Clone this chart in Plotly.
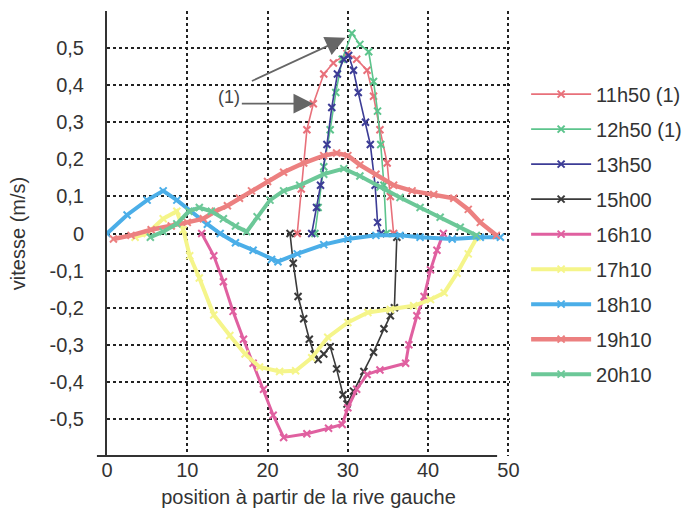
import plotly.graph_objects as go

# Vitesse mesurée le long de la section, pour chaque heure de mesure
x_1150 = [23.7, 24.2, 24.9, 25.7, 27.0, 28.2, 29.9, 31.1, 32.4, 33.2, 34.0, 34.9, 35.3, 35.7]
v_1150 = [0.0, 0.12, 0.28, 0.35, 0.43, 0.46, 0.485, 0.47, 0.44, 0.37, 0.28, 0.19, 0.10, 0.0]

x_1250 = [25.9, 26.3, 27.0, 27.8, 28.5, 29.3, 30.5, 31.5, 32.6, 33.2, 33.7, 34.1, 34.5, 34.8]
v_1250 = [0.0, 0.07, 0.18, 0.28, 0.38, 0.47, 0.54, 0.51, 0.49, 0.41, 0.33, 0.24, 0.13, 0.0]

x_1350 = [25.5, 26.1, 26.6, 27.4, 28.0, 28.7, 29.5, 30.1, 30.7, 31.3, 32.2, 32.8, 33.4, 33.7, 34.1]
v_1350 = [0.0, 0.07, 0.13, 0.24, 0.34, 0.43, 0.47, 0.48, 0.44, 0.38, 0.30, 0.24, 0.13, 0.03, 0.0]

x_1500 = [22.8, 23.2, 23.8, 24.5, 25.2, 25.8, 26.3, 27.0, 27.8, 28.6, 29.4, 29.9, 30.7, 32.0, 33.2,
          34.5, 35.3, 35.8, 36.1]
v_1500 = [0.0, -0.08, -0.17, -0.23, -0.285, -0.325, -0.34, -0.325, -0.305, -0.365, -0.435, -0.46,
          -0.425, -0.372, -0.32, -0.257, -0.222, -0.2, -0.01]

x_1610 = [11.8, 13.3, 14.5, 15.7, 17.0, 18.2, 19.5, 20.7, 22.0, 24.9, 27.6, 29.3, 30.0, 31.1, 32.4,
          34.0, 37.2, 37.6, 38.6, 39.5, 40.3, 41.1, 41.9]
v_1610 = [0.0, -0.06, -0.13, -0.21, -0.285, -0.35, -0.42, -0.49, -0.55, -0.54, -0.525, -0.515, -0.47,
          -0.42, -0.38, -0.368, -0.35, -0.30, -0.222, -0.17, -0.098, -0.045, 0.0]

x_1710 = [3.5, 5.0, 7.0, 8.7, 9.5, 10.3, 11.5, 13.3, 15.3, 17.2, 19.0, 21.5, 23.5, 25.5, 27.5, 30.0,
          32.5, 35.3, 38.2, 40.3, 42.0, 43.6, 45.0, 46.1]
v_1710 = [-0.01, 0.0, 0.04, 0.06, 0.01, -0.06, -0.12, -0.22, -0.275, -0.325, -0.36, -0.372, -0.37,
          -0.335, -0.28, -0.24, -0.213, -0.205, -0.195, -0.178, -0.16, -0.107, -0.055, -0.01]

x_1810 = [0.0, 2.5, 5.0, 7.0, 8.7, 10.4, 12.5, 14.1, 16.0, 18.2, 20.5, 21.3, 23.7, 27.0, 30.0, 33.5,
          36.5, 39.0, 43.0, 46.5, 49.0]
v_1810 = [0.0, 0.05, 0.09, 0.115, 0.09, 0.06, 0.025, 0.0, -0.025, -0.045, -0.07, -0.076, -0.055,
          -0.03, -0.015, -0.005, -0.005, -0.01, -0.015, -0.01, -0.01]

x_1910 = [0.8, 3.0, 5.5, 8.0, 10.0, 12.0, 13.5, 15.0, 16.5, 18.0, 20.0, 22.0, 24.5, 27.0, 28.6, 30.0,
          31.5, 33.5, 35.7, 38.0, 40.7, 43.2, 45.0, 46.5, 48.5]
v_1910 = [-0.015, -0.005, 0.01, 0.02, 0.03, 0.04, 0.06, 0.075, 0.095, 0.115, 0.14, 0.165, 0.19, 0.21,
          0.217, 0.21, 0.185, 0.16, 0.13, 0.115, 0.105, 0.095, 0.065, 0.03, -0.005]

x_2010 = [5.4, 7.0, 8.7, 10.2, 11.5, 13.0, 14.5, 16.0, 17.4, 18.7, 20.3, 22.0, 24.0, 27.0, 29.5, 31.5,
          34.0, 36.5, 39.0, 41.5, 44.0, 46.0]
v_2010 = [-0.01, 0.005, 0.026, 0.06, 0.07, 0.06, 0.04, 0.02, 0.005, 0.045, 0.09, 0.115, 0.13, 0.16,
          0.175, 0.155, 0.125, 0.097, 0.07, 0.044, 0.017, -0.005]

series = [
    ("11h50 (1)", x_1150, v_1150, "#E8707A", 1.6),
    ("12h50 (1)", x_1250, v_1250, "#5CC48C", 1.6),
    ("13h50", x_1350, v_1350, "#3C3C96", 1.6),
    ("15h00", x_1500, v_1500, "#3A3A3A", 1.6),
    ("16h10", x_1610, v_1610, "#E060A0", 3.0),
    ("17h10", x_1710, v_1710, "#F5F58A", 4.0),
    ("18h10", x_1810, v_1810, "#4BAEE8", 4.0),
    ("19h10", x_1910, v_1910, "#EC8080", 4.5),
    ("20h10", x_2010, v_2010, "#6CC898", 4.0),
]

x_ticks = [0, 10, 20, 30, 40, 50]
y_ticks = [-0.5, -0.4, -0.3, -0.2, -0.1, 0, 0.1, 0.2, 0.3, 0.4, 0.5]
y_tick_text = ["-0,5", "-0,4", "-0,3", "-0,2", "-0,1", "0", "0,1", "0,2", "0,3", "0,4", "0,5"]

fig = go.Figure()
for name, xs, vs, color, width in series:
    fig.add_trace(go.Scatter(
        x=xs, y=vs, name=name, mode="lines+markers", legendgroup=name,
        line=dict(color=color, width=width),
        marker=dict(symbol="x-thin", size=7, line=dict(color=color, width=2)),
    ))

font = "Liberation Sans, Arial, sans-serif"
fig.update_layout(
    width=691, height=508,
    margin=dict(l=107, r=181, t=11, b=52, autoexpand=False),
    paper_bgcolor="white", plot_bgcolor="white",
    font=dict(family=font, size=20, color="#333"),
    showlegend=True,
    legend=dict(x=1.04, y=0.857, xanchor="left", yanchor="top",
                font=dict(size=20, color="#333"), tracegroupgap=6, itemwidth=60,
                bgcolor="rgba(0,0,0,0)"),
    xaxis=dict(range=[0, 50.2], tickvals=x_ticks, showgrid=True, gridcolor="#222",
               griddash="dot", gridwidth=1.6, zeroline=False, showline=False,
               automargin=False,
               tickfont=dict(size=20, color="#333"), ticks="",
               title=dict(text="position à partir de la rive gauche",
                          font=dict(size=20, color="#333"), standoff=9)),
    yaxis=dict(range=[-0.6, 0.6], tickvals=y_ticks, ticktext=y_tick_text, showgrid=True,
               gridcolor="#222", griddash="dot", gridwidth=1.6, zeroline=False,
               showline=True, linecolor="#333", linewidth=2, ticks="", automargin=False,
               ticklabelstandoff=17, tickfont=dict(size=20, color="#333"),
               title=dict(text="vitesse (m/s)", font=dict(size=20, color="#333"), standoff=19)),
)

# axe horizontal du bas, légèrement prolongé à gauche de l'origine
fig.add_shape(type="line", xref="paper", yref="paper", x0=-0.025, x1=0.968, y0=0, y1=0,
              line=dict(color="#333", width=2))

# renvois (1) vers les profils de 11h50 et 12h50
fig.add_annotation(x=0.303, y=0.807, xref="paper", yref="paper", text="(1)", showarrow=False,
                   xanchor="center", yanchor="middle", font=dict(size=18, color="#444"))
fig.add_annotation(x=25.7, y=0.35, xref="x", yref="y", text="", showarrow=True,
                   ax=-73, ay=0, arrowhead=2, arrowsize=2.2, arrowwidth=1.8, arrowcolor="#666")
fig.add_annotation(x=29.7, y=0.528, xref="x", yref="y", text="", showarrow=True,
                   ax=-95, ay=44, arrowhead=2, arrowsize=2.2, arrowwidth=1.8, arrowcolor="#666")

fig.write_html("out.html")
